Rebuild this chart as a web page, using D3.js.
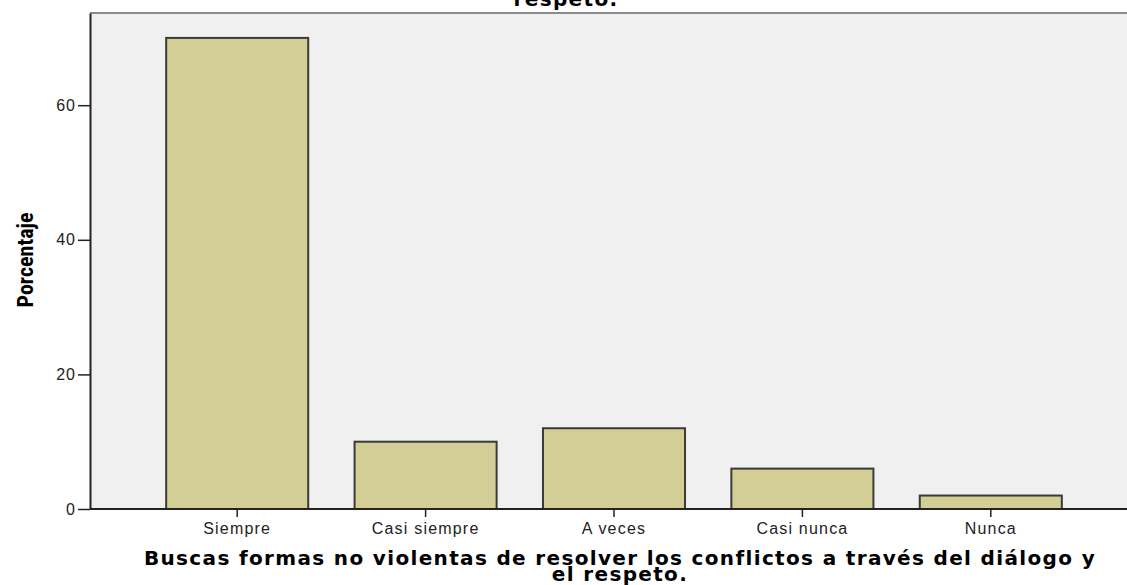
<!DOCTYPE html>
<html>
<head>
<meta charset="utf-8">
<script src="https://cdn.jsdelivr.net/npm/d3@7"></script>
<style>
  body { margin: 0; background: #fff; }
  svg { display: block; }
</style>
</head>
<body>
<div id="chart"></div>
<script>
// data
const categories = ['Siempre', 'Casi siempre', 'A veces', 'Casi nunca', 'Nunca'];
const percents = [70, 10, 12, 6, 2];
const yTicks = [0, 20, 40, 60];
const titleTail = 'respeto.';
const xTitleLines = ['Buscas formas no violentas de resolver los conflictos a través del diálogo y', 'el respeto.'];
const yTitle = 'Porcentaje';

const width = 1127, height = 585;
const plot = { left: 90, top: 13, right: 1130, bottom: 509 };
const tickFont = 'Liberation Sans, Arial, sans-serif';
const boldWide = 'DejaVu Sans, Verdana, sans-serif';

const svg = d3.select('#chart').append('svg')
    .attr('width', width)
    .attr('height', height);

const x = d3.scaleBand()
    .domain(categories)
    .range([143, 1085])
    .paddingInner(0.246)
    .paddingOuter(0.123);

const y = d3.scaleLinear()
    .domain([0, 73.7])
    .range([plot.bottom, plot.top]);

// plot background
svg.append('rect')
    .attr('x', plot.left)
    .attr('y', plot.top)
    .attr('width', plot.right - plot.left)
    .attr('height', plot.bottom - plot.top)
    .attr('fill', '#f0f0f0');

svg.append('line')
    .attr('x1', plot.left).attr('x2', plot.right)
    .attr('y1', plot.top).attr('y2', plot.top)
    .attr('stroke', '#8a8a8a')
    .attr('stroke-width', 2);

// bars
svg.selectAll('.bar')
    .data(categories)
    .enter()
    .append('rect')
    .attr('class', 'bar')
    .attr('x', d => x(d))
    .attr('y', (d, i) => y(percents[i]))
    .attr('width', x.bandwidth())
    .attr('height', (d, i) => y(0) - y(percents[i]))
    .attr('fill', '#d2ce96')
    .attr('stroke', '#3a3a36')
    .attr('stroke-width', 2);

// y axis
const yAxis = svg.append('g')
    .attr('transform', `translate(${plot.left},0)`)
    .call(d3.axisLeft(y).tickValues(yTicks).tickSize(12).tickPadding(2).tickSizeOuter(0));
yAxis.select('.domain').attr('stroke', '#222').attr('stroke-width', 2);
yAxis.selectAll('.tick line').attr('stroke', '#222').attr('stroke-width', 1.5);
yAxis.selectAll('text')
    .style('font-family', tickFont)
    .style('font-size', '16px')
    .style('letter-spacing', '1px')
    .attr('fill', '#222');

// x axis
const xAxis = svg.append('g')
    .attr('transform', `translate(0,${plot.bottom})`)
    .call(d3.axisBottom(x).tickSize(8).tickPadding(6).tickSizeOuter(0));
xAxis.select('.domain').remove();
svg.append('line')
    .attr('x1', plot.left).attr('x2', plot.right)
    .attr('y1', plot.bottom).attr('y2', plot.bottom)
    .attr('stroke', '#222').attr('stroke-width', 2);
xAxis.selectAll('.tick line').attr('stroke', '#222').attr('stroke-width', 1.5);
xAxis.selectAll('text')
    .style('font-family', tickFont)
    .style('font-size', '16px')
    .style('letter-spacing', '1.2px')
    .attr('fill', '#222');

// x title: spread line 1 to the width seen in the picture, same spacing for line 2
const xTitle = svg.selectAll('.xtitle')
    .data(xTitleLines)
    .enter()
    .append('text')
    .attr('class', 'xtitle')
    .attr('x', 620)
    .attr('y', (d, i) => 565 + i * 16)
    .attr('text-anchor', 'middle')
    .style('font-family', boldWide)
    .style('font-weight', 'bold')
    .style('font-size', '20px')
    .text(d => d);
const natural = xTitle.node().getComputedTextLength();
const spacing = Math.max(0, (950 - natural) / (xTitleLines[0].length - 1));
xTitle.style('letter-spacing', spacing + 'px');

// chart title, cut off at the top edge
svg.append('text')
    .attr('x', 566)
    .attr('y', 6)
    .attr('text-anchor', 'middle')
    .style('font-family', boldWide)
    .style('font-weight', 'bold')
    .style('font-size', '20px')
    .style('letter-spacing', spacing + 'px')
    .text(titleTail);

svg.append('text')
    .attr('transform', 'translate(33,260) rotate(-90)')
    .attr('text-anchor', 'middle')
    .style('font-family', 'Liberation Sans Narrow, Roboto Condensed, Arial Narrow, sans-serif')
    .style('font-weight', 'bold')
    .style('font-size', '22px')
    .text(yTitle);
</script>
</body>
</html>
